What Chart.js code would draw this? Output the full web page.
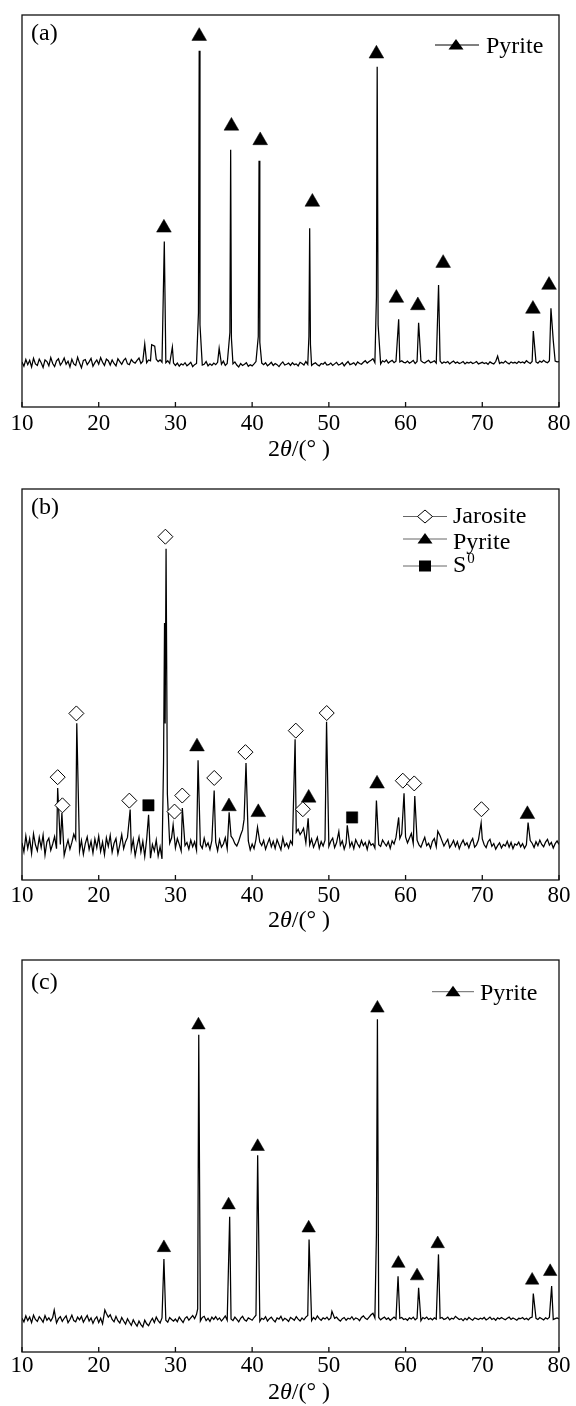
<!DOCTYPE html>
<html lang="en">
<head>
    <meta charset="UTF-8">
    <title>XRD patterns</title>
    <script src="https://cdn.jsdelivr.net/npm/chart.js"></script>
    <style>
        body {
            margin: 0;
            background: #fff;
            width: 576px;
        }
        canvas {
            display: block;
        }
    </style>
</head>
<body>
    <canvas id="chartA" width="576" height="470"></canvas>
    <canvas id="chartB" width="576" height="470"></canvas>
    <canvas id="chartC" width="576" height="466"></canvas>
    <script>
        // 2theta axis
        const xTicks = [10, 20, 30, 40, 50, 60, 70, 80];
        const X_START = 10;
        const STEP = 0.25;   // baseline samples, 10..80 deg

        // ---- (a) raw pyrite ----
        const baseA = [
            11.5, 10.4, 12.1, 10.8, 11.9, 10.2, 12.4, 11.0, 10.6, 12.2,
            11.3, 10.1, 12.0, 11.6, 10.5, 12.6, 11.1, 10.3, 11.8, 12.3,
            10.7, 11.4, 12.5, 10.9, 11.7, 10.2, 12.2, 11.0, 10.6, 12.7,
            11.2, 10.0, 11.9, 12.1, 10.8, 11.5, 12.4, 10.4, 11.3, 12.0,
            10.9, 12.6, 11.4, 10.6, 12.2, 11.8, 10.7, 12.0, 11.1, 10.5,
            12.3, 11.6, 10.9, 11.9, 12.4, 11.0, 10.8, 12.1, 11.5, 11.2,
            11.9, 12.5, 11.1, 11.7, 12.4, 11.3, 12.0, 11.8, 12.6, 11.4,
            12.2, 11.6, 12.0, 11.4, 11.0, 11.3, 11.8, 11.1, 10.8, 11.2,
            10.6, 11.2, 10.4, 11.0, 10.7, 11.3, 10.5, 10.9, 11.4, 10.3,
            10.8, 11.1, 10.4, 11.5, 10.7, 10.9, 11.6, 10.5, 11.0, 10.6,
            11.2, 10.8, 11.4, 10.4, 10.9, 11.7, 10.6, 11.1, 10.3, 10.8,
            11.0, 11.5, 10.7, 10.2, 11.1, 10.6, 10.9, 11.3, 10.4, 10.8,
            10.5, 11.0, 11.6, 10.7, 10.4, 11.2, 10.8, 11.3, 10.5, 10.9,
            11.4, 10.6, 11.1, 10.8, 10.3, 11.0, 11.5, 10.7, 10.9, 11.2,
            10.6, 11.3, 10.8, 11.0, 10.5, 11.4, 11.1, 10.7, 11.6, 10.9,
            11.2, 10.6, 11.0, 11.3, 10.8, 10.5, 11.1, 10.9, 11.4, 10.7,
            10.8, 11.2, 10.6, 11.0, 11.4, 10.7, 10.9, 11.3, 10.5, 11.1,
            11.6, 10.8, 11.0, 11.3, 10.7, 11.5, 11.1, 10.9, 11.4, 11.8,
            11.2, 11.6, 11.9, 12.3, 11.3, 11.7, 11.4, 11.0, 11.8, 11.5,
            12.0, 11.2, 11.6, 11.9, 11.3, 11.7, 11.1, 11.5, 11.8, 11.4,
            11.3, 11.7, 11.2, 11.5, 11.9, 11.1, 11.6, 11.3, 11.8, 11.4,
            11.2, 11.6, 11.9, 11.3, 11.5, 11.8, 11.2, 11.4, 11.7, 11.1,
            11.5, 11.3, 11.6, 11.0, 11.4, 11.7, 11.2, 11.5, 11.1, 11.3,
            11.6, 11.0, 11.4, 11.2, 11.5, 11.1, 11.3, 11.6, 11.0, 11.2,
            11.4, 11.1, 11.3, 10.9, 11.5, 11.2, 11.0, 11.6, 11.3, 11.1,
            11.4, 11.2, 11.7, 11.3, 11.0, 11.5, 11.2, 11.4, 11.1, 11.6,
            11.3, 11.5, 11.2, 11.8, 11.4, 11.1, 11.6, 11.3, 11.5, 11.2,
            11.7, 11.4, 11.9, 11.5, 11.3, 11.8, 11.6, 11.4, 11.7, 11.5,
            11.6
        ];
        const peaksA = [
            [26.0, 16.1], [26.9, 15.9], [27.3, 15.5], [28.55, 42.2], [29.6, 15.3],
            [33.0, 24.0], [33.1, 90.9], [33.2, 21.0], [35.7, 15.0],
            [37.1, 19.0], [37.2, 65.6], [37.3, 17.5], [40.8, 18.0], [40.9, 62.8], [41.0, 16.5],
            [47.4, 18.0], [47.5, 45.6], [47.6, 16.0],
            [56.2, 28.0], [56.3, 86.8], [56.42, 21.0],
            [59.1, 22.4], [61.7, 21.5], [64.3, 31.1], [72.0, 13.0],
            [76.65, 19.4], [78.95, 25.2], [79.25, 17.0]
        ];
        const pyriteA = [
            [28.5, 45.7], [33.1, 94.6], [37.3, 71.7], [41.05, 68.0], [47.85, 52.3],
            [56.2, 90.1], [58.8, 27.8], [61.6, 25.9], [64.9, 36.7], [76.6, 25.0], [78.7, 31.1]
        ];

        // ---- (b) leached residue ----
        const baseB = [
            9.5, 7.2, 11.3, 8.1, 10.6, 6.8, 11.8, 9.0, 7.5, 10.9,
            8.3, 11.5, 6.4, 9.8, 10.7, 7.6, 9.2, 11.1, 8.0, 10.3,
            9.1, 7.0, 6.3, 8.4, 10.2, 7.9, 9.6, 11.7, 10.4, 8.7,
            7.4, 10.1, 6.6, 9.3, 11.0, 7.8, 9.9, 6.9, 10.5, 8.2,
            11.2, 7.3, 9.7, 6.5, 10.8, 8.6, 11.4, 7.1, 9.4, 10.6,
            6.7, 9.0, 11.6, 8.0, 9.8, 10.9, 9.5, 7.7, 10.3, 6.2,
            8.8, 11.0, 7.2, 9.9, 6.0, 10.4, 8.3, 5.6, 9.1, 7.4,
            10.2, 6.1, 8.5, 5.4, 9.6, 11.8, 12.5, 9.4, 10.8, 7.6,
            8.2, 10.6, 9.1, 7.4, 10.9, 8.8, 9.6, 7.9, 10.2, 8.5,
            9.8, 7.6, 10.4, 9.0, 8.1, 10.7, 8.6, 9.5, 7.8, 10.1,
            8.9, 9.7, 7.5, 10.3, 8.4, 9.2, 10.8, 8.0, 9.4, 11.2,
            10.5, 9.3, 8.7, 9.9, 11.5, 12.8, 9.6, 8.3, 10.0, 7.7,
            9.2, 8.0, 10.4, 7.6, 9.7, 8.8, 10.1, 7.9, 9.3, 10.6,
            8.5, 9.9, 8.1, 10.3, 9.0, 7.7, 10.8, 8.6, 9.4, 8.2,
            10.0, 9.1, 11.4, 12.2, 13.0, 11.6, 12.4, 10.2, 9.5, 8.3,
            9.0, 10.5, 8.4, 9.6, 10.9, 8.1, 9.8, 8.7, 10.2, 9.3,
            8.6, 9.9, 10.7, 8.3, 9.5, 11.3, 8.9, 10.0, 7.9, 9.4,
            10.8, 8.5, 9.7, 8.0, 10.3, 9.2, 8.4, 10.1, 8.8, 9.6,
            7.8, 10.0, 8.9, 9.3, 8.2, 10.5, 9.0, 8.6, 10.2, 9.4,
            8.7, 9.8, 8.1, 10.0, 9.2, 10.9, 12.3, 10.6, 11.8, 10.4,
            11.0, 9.5, 10.7, 11.9, 9.3, 8.6, 10.2, 9.0, 8.4, 9.7,
            10.9, 8.8, 9.4, 8.1, 9.9, 10.6, 8.5, 9.2, 11.3, 10.0,
            8.7, 9.6, 10.4, 8.3, 9.1, 10.1, 8.6, 9.8, 8.0, 9.3,
            10.2, 8.9, 9.5, 8.2, 9.7, 10.6, 8.4, 9.0, 10.3, 11.4,
            10.5, 9.0, 8.3, 9.8, 10.4, 8.6, 9.3, 7.9, 8.8, 9.5,
            8.2, 9.1, 8.7, 9.9, 8.4, 9.6, 8.0, 9.2, 8.9, 9.7,
            8.5, 9.3, 8.1, 9.0, 8.6, 10.1, 9.4, 8.3, 9.8, 8.8,
            10.2, 9.1, 8.5, 9.7, 10.4, 8.9, 9.6, 8.2, 9.3, 10.0,
            9.1
        ];
        const peaksB = [
            [14.65, 23.5], [15.2, 17.1], [17.14, 40.1], [24.1, 18.0], [26.5, 16.7],
            [28.45, 30.0], [28.58, 65.7], [28.66, 40.0], [28.78, 84.7], [28.95, 22.0],
            [29.7, 14.1], [30.9, 18.4], [32.95, 30.6], [35.05, 22.9], [37.0, 17.3],
            [38.95, 15.5], [39.2, 29.9], [40.7, 13.5], [45.6, 36.0], [46.7, 13.2],
            [47.3, 15.8], [49.7, 40.5], [51.3, 12.4], [52.4, 14.0], [56.2, 20.3],
            [59.1, 16.0], [59.8, 22.2], [61.2, 21.5], [64.2, 12.5], [69.85, 14.6], [75.97, 14.7]
        ];
        const jarositeB = [
            [14.65, 26.3], [15.27, 19.1], [17.09, 42.6], [23.99, 20.3], [28.69, 87.8],
            [29.88, 17.5], [30.89, 21.6], [35.06, 26.1], [39.13, 32.7], [45.69, 38.2],
            [46.61, 18.1], [49.72, 42.7], [59.64, 25.4], [61.13, 24.7], [69.89, 18.1]
        ];
        const pyriteB = [
            [32.81, 34.1], [36.98, 18.8], [40.8, 17.3], [47.37, 21.0], [56.28, 24.6], [75.88, 16.8]
        ];
        const sulfurB = [[26.48, 19.1], [53.03, 16.0]];

        // ---- (c) ----
        const baseC = [
            8.6, 7.7, 9.2, 8.0, 8.9, 7.5, 9.4, 8.3, 7.8, 9.0,
            8.4, 7.6, 9.3, 8.1, 8.7, 7.9, 8.8, 9.1, 7.4, 8.5,
            9.0, 7.8, 8.6, 9.2, 7.5, 8.3, 9.4, 8.0, 7.7, 8.9,
            8.2, 9.1, 7.6, 8.5, 9.3, 7.9, 8.7, 7.3, 8.4, 9.0,
            7.5, 8.6, 7.2, 9.0, 9.8, 8.9, 9.5, 8.3, 7.7, 9.1,
            8.0, 7.4, 8.8, 7.9, 7.1, 8.5, 7.6, 6.8, 8.2, 7.3,
            6.6, 7.9, 7.0, 6.4, 8.1, 7.2, 6.7, 7.8, 8.6, 7.5,
            8.9, 8.0, 7.4, 8.7, 9.2, 8.1, 7.6, 8.8, 8.3, 7.9,
            8.4, 7.7, 8.9, 8.2, 7.5, 8.6, 9.0, 8.1, 8.7, 9.3,
            8.5, 9.6, 8.3, 7.9, 8.8, 9.1, 8.0, 8.6, 7.8, 8.9,
            8.3, 9.0, 8.2, 8.7, 7.9, 8.5, 9.2, 8.1, 8.8, 8.4,
            8.0, 8.9, 8.3, 7.7, 8.6, 9.1, 8.2, 7.9, 8.7, 8.4,
            8.1, 8.8, 9.4, 8.0, 7.8, 8.6, 8.3, 9.0, 7.9, 8.5,
            8.9, 8.2, 7.7, 8.7, 8.4, 9.1, 8.0, 8.6, 8.3, 7.8,
            8.8, 8.5, 8.1, 9.0, 8.4, 7.9, 8.7, 8.2, 8.9, 9.3,
            8.6, 8.0, 8.8, 8.3, 9.2, 8.5, 8.1, 8.7, 8.4, 8.9,
            8.2, 8.7, 8.0, 8.6, 8.9, 8.3, 7.9, 8.5, 8.8, 8.1,
            8.6, 8.4, 9.0, 8.2, 8.7, 8.5, 8.0, 8.8, 9.2, 8.6,
            8.3, 8.9, 9.5, 9.9, 8.7, 8.4, 8.8, 8.2, 8.6, 8.9,
            8.3, 8.7, 8.1, 8.5, 8.9, 8.4, 8.2, 8.6, 8.8, 8.3,
            8.5, 8.1, 8.7, 8.4, 8.9, 8.2, 8.6, 8.3, 8.0, 8.8,
            8.5, 8.9, 8.3, 8.6, 8.2, 8.7, 8.4, 8.1, 8.6, 8.8,
            8.3, 8.5, 8.9, 8.2, 8.6, 8.4, 9.1, 8.7, 8.3, 8.5,
            8.0, 8.6, 8.2, 8.8, 8.4, 8.1, 8.7, 8.5, 8.3, 8.6,
            8.4, 8.8, 8.2, 8.5, 8.9, 8.3, 8.6, 8.1, 8.7, 8.4,
            8.8, 8.5, 8.2, 8.6, 8.9, 8.3, 8.7, 8.4, 8.1, 8.6,
            8.5, 8.8, 8.3, 8.6, 8.2, 8.7, 8.9, 8.4, 8.6, 8.3,
            8.8, 8.5, 8.2, 8.7, 8.4, 8.9, 8.6, 8.3, 8.5, 8.7,
            8.4
        ];
        const peaksC = [
            [14.2, 10.7], [20.8, 10.7], [28.5, 23.7], [32.9, 11.0], [33.04, 80.9],
            [37.07, 34.5], [40.72, 50.2], [47.42, 28.7], [50.4, 10.4],
            [56.2, 30.0], [56.33, 84.9], [59.02, 19.3], [61.7, 16.4], [64.29, 24.9],
            [76.65, 14.9], [79.04, 16.8]
        ];
        const pyriteC = [
            [28.5, 26.6], [33.0, 83.4], [36.93, 37.5], [40.72, 52.4], [47.37, 31.6],
            [56.33, 87.7], [59.06, 22.6], [61.5, 19.4], [64.19, 27.6], [76.5, 18.3], [78.85, 20.5]
        ];

        const SERIF = "'Liberation Serif', 'Times New Roman', serif";

        // baseline samples + peak tops, sorted along 2theta
        function buildTrace(base, peaks) {
            const pts = [];
            base.forEach((y, i) => {
                const x = X_START + i * STEP;
                if (!peaks.some(p => Math.abs(p[0] - x) < 0.12)) pts.push({ x: x, y: y });
            });
            peaks.forEach(p => pts.push({ x: p[0], y: p[1] }));
            pts.sort((a, b) => a.x - b.x);
            return pts;
        }

        function toPoints(list) {
            return list.map(p => ({ x: p[0], y: p[1] }));
        }

        function drawMark(ctx, kind, x, y) {
            ctx.beginPath();
            if (kind === 'tri') {
                ctx.moveTo(x, y - 6);
                ctx.lineTo(x + 7.5, y + 4.5);
                ctx.lineTo(x - 7.5, y + 4.5);
                ctx.closePath();
                ctx.fillStyle = '#000';
                ctx.fill();
            } else if (kind === 'dia') {
                ctx.moveTo(x, y - 6.5);
                ctx.lineTo(x + 7.5, y);
                ctx.lineTo(x, y + 6.5);
                ctx.lineTo(x - 7.5, y);
                ctx.closePath();
                ctx.fillStyle = '#fff';
                ctx.fill();
                ctx.lineWidth = 1;
                ctx.strokeStyle = '#000';
                ctx.stroke();
            } else {
                ctx.fillStyle = '#000';
                ctx.fillRect(x - 6, y - 5.5, 12, 11);
            }
        }

        function decorPlugin(cfg) {
            return {
                id: 'decor',
                afterDraw(chart) {
                    const ctx = chart.ctx;
                    const a = chart.chartArea;
                    const xs = chart.scales.x;
                    ctx.save();
                    // frame + inward ticks
                    ctx.strokeStyle = '#111';
                    ctx.lineWidth = 1.3;
                    ctx.strokeRect(a.left, a.top, a.right - a.left, a.bottom - a.top);
                    ctx.beginPath();
                    xs.ticks.forEach(t => {
                        const px = xs.getPixelForValue(t.value);
                        ctx.moveTo(px, a.bottom);
                        ctx.lineTo(px, a.bottom - 5);
                    });
                    ctx.stroke();

                    ctx.fillStyle = '#000';
                    ctx.textBaseline = 'alphabetic';
                    ctx.font = '24px ' + SERIF;
                    ctx.fillText(cfg.tag, cfg.tagX, cfg.tagY);

                    // axis title 2θ/(°)
                    const parts = [['2', ''], ['θ', 'italic '], ['/(', ''], ['°', ''], [' )', '']];
                    let w = 0;
                    parts.forEach(p => { ctx.font = p[1] + '24px ' + SERIF; w += ctx.measureText(p[0]).width; });
                    let tx = cfg.titleX - w / 2;
                    parts.forEach(p => {
                        ctx.font = p[1] + '24px ' + SERIF;
                        ctx.fillText(p[0], tx, cfg.titleY);
                        tx += ctx.measureText(p[0]).width;
                    });

                    // legend
                    const lg = cfg.legend;
                    lg.rows.forEach(r => {
                        ctx.strokeStyle = lg.lineColor;
                        ctx.lineWidth = 1;
                        ctx.beginPath();
                        ctx.moveTo(lg.x0, r.y);
                        ctx.lineTo(lg.x1, r.y);
                        ctx.stroke();
                        drawMark(ctx, r.kind, lg.mx, r.y);
                        ctx.fillStyle = '#000';
                        ctx.font = '24px ' + SERIF;
                        ctx.fillText(r.text, lg.textX, r.base);
                        if (r.sup) {
                            const sw = ctx.measureText(r.text).width;
                            ctx.font = '15px ' + SERIF;
                            ctx.fillText(r.sup, lg.textX + sw + 1, r.base - 9);
                        }
                    });
                    ctx.restore();
                }
            };
        }

        function makeChart(id, trace, markers, cfg) {
            const datasets = markers.map(m => ({
                type: 'scatter',
                data: toPoints(m.data),
                showLine: false,
                pointStyle: m.style,
                pointRadius: m.radius,
                pointBackgroundColor: m.fill,
                pointBorderColor: '#000',
                pointBorderWidth: m.border,
                clip: false
            }));
            datasets.push({
                type: 'line',
                data: trace,
                borderColor: '#000',
                borderWidth: 1.25,
                pointRadius: 0,
                tension: 0,
                fill: false
            });

            new Chart(document.getElementById(id).getContext('2d'), {
                data: { datasets: datasets },
                options: {
                    responsive: false,
                    animation: false,
                    events: [],
                    layout: { padding: { left: 22, right: 17, top: cfg.top, bottom: 0 } },
                    plugins: { legend: { display: false }, tooltip: { enabled: false } },
                    scales: {
                        x: {
                            type: 'linear',
                            min: 10,
                            max: 80,
                            grid: { display: false, drawTicks: false, tickLength: 0 },
                            border: { display: false },
                            afterBuildTicks: s => { s.ticks = xTicks.map(v => ({ value: v })); },
                            afterFit: s => { s.height = cfg.axisH; s.paddingLeft = 0; s.paddingRight = 0; },
                            ticks: {
                                autoSkip: false,
                                maxRotation: 0,
                                padding: cfg.tickPad,
                                color: '#000',
                                font: { family: SERIF, size: 23 }
                            }
                        },
                        y: { display: false, min: 0, max: 100 }
                    }
                },
                plugins: [decorPlugin(cfg)]
            });
        }

        makeChart('chartA', buildTrace(baseA, peaksA), [
            { data: pyriteA, style: 'triangle', radius: 8.5, fill: '#000', border: 0.5 }
        ], {
            top: 15, axisH: 63, tickPad: 3,
            tag: '(a)', tagX: 31, tagY: 40,
            titleX: 299, titleY: 456,
            legend: {
                x0: 435, x1: 479, mx: 456, textX: 486, lineColor: '#000',
                rows: [{ kind: 'tri', y: 45, base: 53.3, text: 'Pyrite' }]
            }
        });

        makeChart('chartB', buildTrace(baseB, peaksB), [
            { data: jarositeB, style: 'rectRot', radius: 7.5, fill: '#fff', border: 1 },
            { data: pyriteB, style: 'triangle', radius: 8.5, fill: '#000', border: 0.5 },
            { data: sulfurB, style: 'rect', radius: 8, fill: '#000', border: 0.5 }
        ], {
            top: 19, axisH: 60, tickPad: 2,
            tag: '(b)', tagX: 31, tagY: 44,
            titleX: 299, titleY: 457,
            legend: {
                x0: 403, x1: 447, mx: 425, textX: 453, lineColor: '#666',
                rows: [
                    { kind: 'dia', y: 46.5, base: 53.3, text: 'Jarosite' },
                    { kind: 'tri', y: 69, base: 79, text: 'Pyrite' },
                    { kind: 'sq', y: 96, base: 101.7, text: 'S', sup: '0' }
                ]
            }
        });

        makeChart('chartC', buildTrace(baseC, peaksC), [
            { data: pyriteC, style: 'triangle', radius: 7.8, fill: '#000', border: 0.5 }
        ], {
            top: 20, axisH: 54, tickPad: 0,
            tag: '(c)', tagX: 31, tagY: 49,
            titleX: 299, titleY: 459,
            legend: {
                x0: 432, x1: 474, mx: 453, textX: 480, lineColor: '#666',
                rows: [{ kind: 'tri', y: 51.7, base: 59.5, text: 'Pyrite' }]
            }
        });
    </script>
</body>
</html>
